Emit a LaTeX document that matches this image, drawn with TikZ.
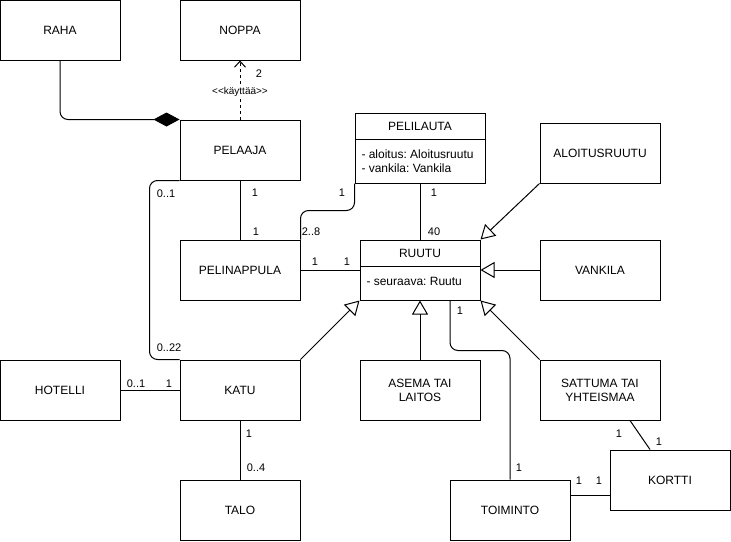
\documentclass[tikz,border=0pt]{standalone}
\usepackage{fontspec}
\setmainfont{Liberation Sans}
\usepackage{tikz}
\usetikzlibrary{arrows.meta, calc}
\frenchspacing

\tikzset{
    cls/.style={draw, rectangle, fill=white, line width=1pt, minimum width=120pt, minimum height=60pt, align=center, font=\fontsize{12}{14}\selectfont},
    mult/.style={inner sep=0pt, font=\fontsize{11}{13}\selectfont},
    attr/.style={inner sep=0pt, anchor=west, align=left, font=\fontsize{12}{14}\selectfont},
    inherit/.style={-{Triangle[open, length=14pt, width=16pt, fill=white]}},
    link/.style={line width=1pt, rounded corners=8pt}
}

\begin{document}
\begin{tikzpicture}[x=1pt, y=-1pt, line width=1pt]
    \useasboundingbox (0,0) rectangle (731,541);

    % Classes
    \node[cls] (raha) at (60,30) {RAHA};
    \node[cls] (noppa) at (240,30) {NOPPA};
    \node[cls] (pelaaja) at (240,150) {PELAAJA};
    \node[cls] (pelinappula) at (240,270) {PELINAPPULA};
    \node[cls] (hotelli) at (60,390) {HOTELLI};
    \node[cls] (katu) at (240,390) {KATU};
    \node[cls] (talo) at (240,510) {TALO};
    \node[cls] (aloitusruutu) at (600,153) {ALOITUSRUUTU};
    \node[cls] (vankila) at (600,270) {VANKILA};
    \node[cls] (asema) at (420,390) {ASEMA TAI\\LAITOS};
    \node[cls] (sattuma) at (600,390) {SATTUMA TAI\\YHTEISMAA};
    \node[cls] (toiminto) at (510,510) {TOIMINTO};
    \node[cls] (kortti) at (670,480) {KORTTI};

    % Pelilauta with attributes
    \node[cls, minimum width=130pt, minimum height=70pt] (pelilauta) at (420,148) {};
    \node[inner sep=0pt, font=\fontsize{12}{14}\selectfont] (pelilautaname) at (420,126) {PELILAUTA};
    \draw (pelilauta.west |- 0,139) -- (pelilauta.east |- 0,139);
    \node[attr] (pelilautaattr) at (361,161) {- aloitus: Aloitusruutu\\- vankila: Vankila};

    % Ruutu with attribute
    \node[cls] (ruutu) at (420,270) {};
    \node[inner sep=0pt, font=\fontsize{12}{14}\selectfont] (ruutuname) at (420,253) {RUUTU};
    \draw (ruutu.west |- 0,266) -- (ruutu.east |- 0,266);
    \node[attr] (ruutuattr) at (366,281) {- seuraava: Ruutu};

    % Associations
    \draw[link, -{Diamond[length=26pt, width=14pt]}] (raha.south) |- (pelaaja.north west);
    \draw[dashed, -{Straight Barb[length=6pt, width=11pt]}] (pelaaja.north) -- (noppa.south);
    \draw[link] (pelaaja.south) -- (pelinappula.north);
    \draw[link] (pelaaja.south west) -- ++(-30,0) |- (katu.north west);
    \draw[link] (pelilauta.south west) -- ++(0,27) -| (pelinappula.north east);
    \draw[link] (pelilauta.south) -- (ruutu.north);
    \draw[link] (pelinappula.east) -- (ruutu.west);
    \draw[link] (hotelli.east) -- (katu.west);
    \draw[link] (katu.south) -- (talo.north);
    \draw[link] ([xshift=30pt]ruutu.south) -- ++(0,50) -| (toiminto.north);
    \draw[link] ([yshift=15pt]toiminto.east) -- ([yshift=-15pt]kortti.west);
    \draw[link] ([xshift=30pt]sattuma.south) -- ([xshift=-20pt]kortti.north);

    % Generalizations
    \draw[inherit] (aloitusruutu.south west) -- (ruutu.north east);
    \draw[inherit] (vankila.west) -- (ruutu.east);
    \draw[inherit] (katu.north east) -- (ruutu.south west);
    \draw[inherit] (asema.north) -- (ruutu.south);
    \draw[inherit] (sattuma.north west) -- (ruutu.south east);

    % Multiplicities
    \node[mult] (m1) at (259,74) {2};
    \node[inner sep=1pt, fill=white, font=\fontsize{10}{12}\selectfont] (kayttaa) at (240,92) {<{}<käyttää>{}>};
    \node[mult] (m2) at (255,193) {1};
    \node[mult] (m3) at (256,232) {1};
    \node[mult] (m4) at (166,194) {0..1};
    \node[mult] (m5) at (169,348) {0..22};
    \node[mult] (m6) at (342,193) {1};
    \node[mult] (m7) at (311,232) {2..8};
    \node[mult] (m8) at (434,193) {1};
    \node[mult] (m9) at (434,232) {40};
    \node[mult] (m10) at (315,262) {1};
    \node[mult] (m11) at (347,262) {1};
    \node[mult] (m12) at (460,311) {1};
    \node[mult] (m13) at (136,384) {0..1};
    \node[mult] (m14) at (169,384) {1};
    \node[mult] (m15) at (249,434) {1};
    \node[mult] (m16) at (256,468) {0..4};
    \node[mult] (m17) at (619,434) {1};
    \node[mult] (m18) at (659,442) {1};
    \node[mult] (m19) at (519,468) {1};
    \node[mult] (m20) at (579,481) {1};
    \node[mult] (m21) at (599,481) {1};
\end{tikzpicture}
\end{document}
